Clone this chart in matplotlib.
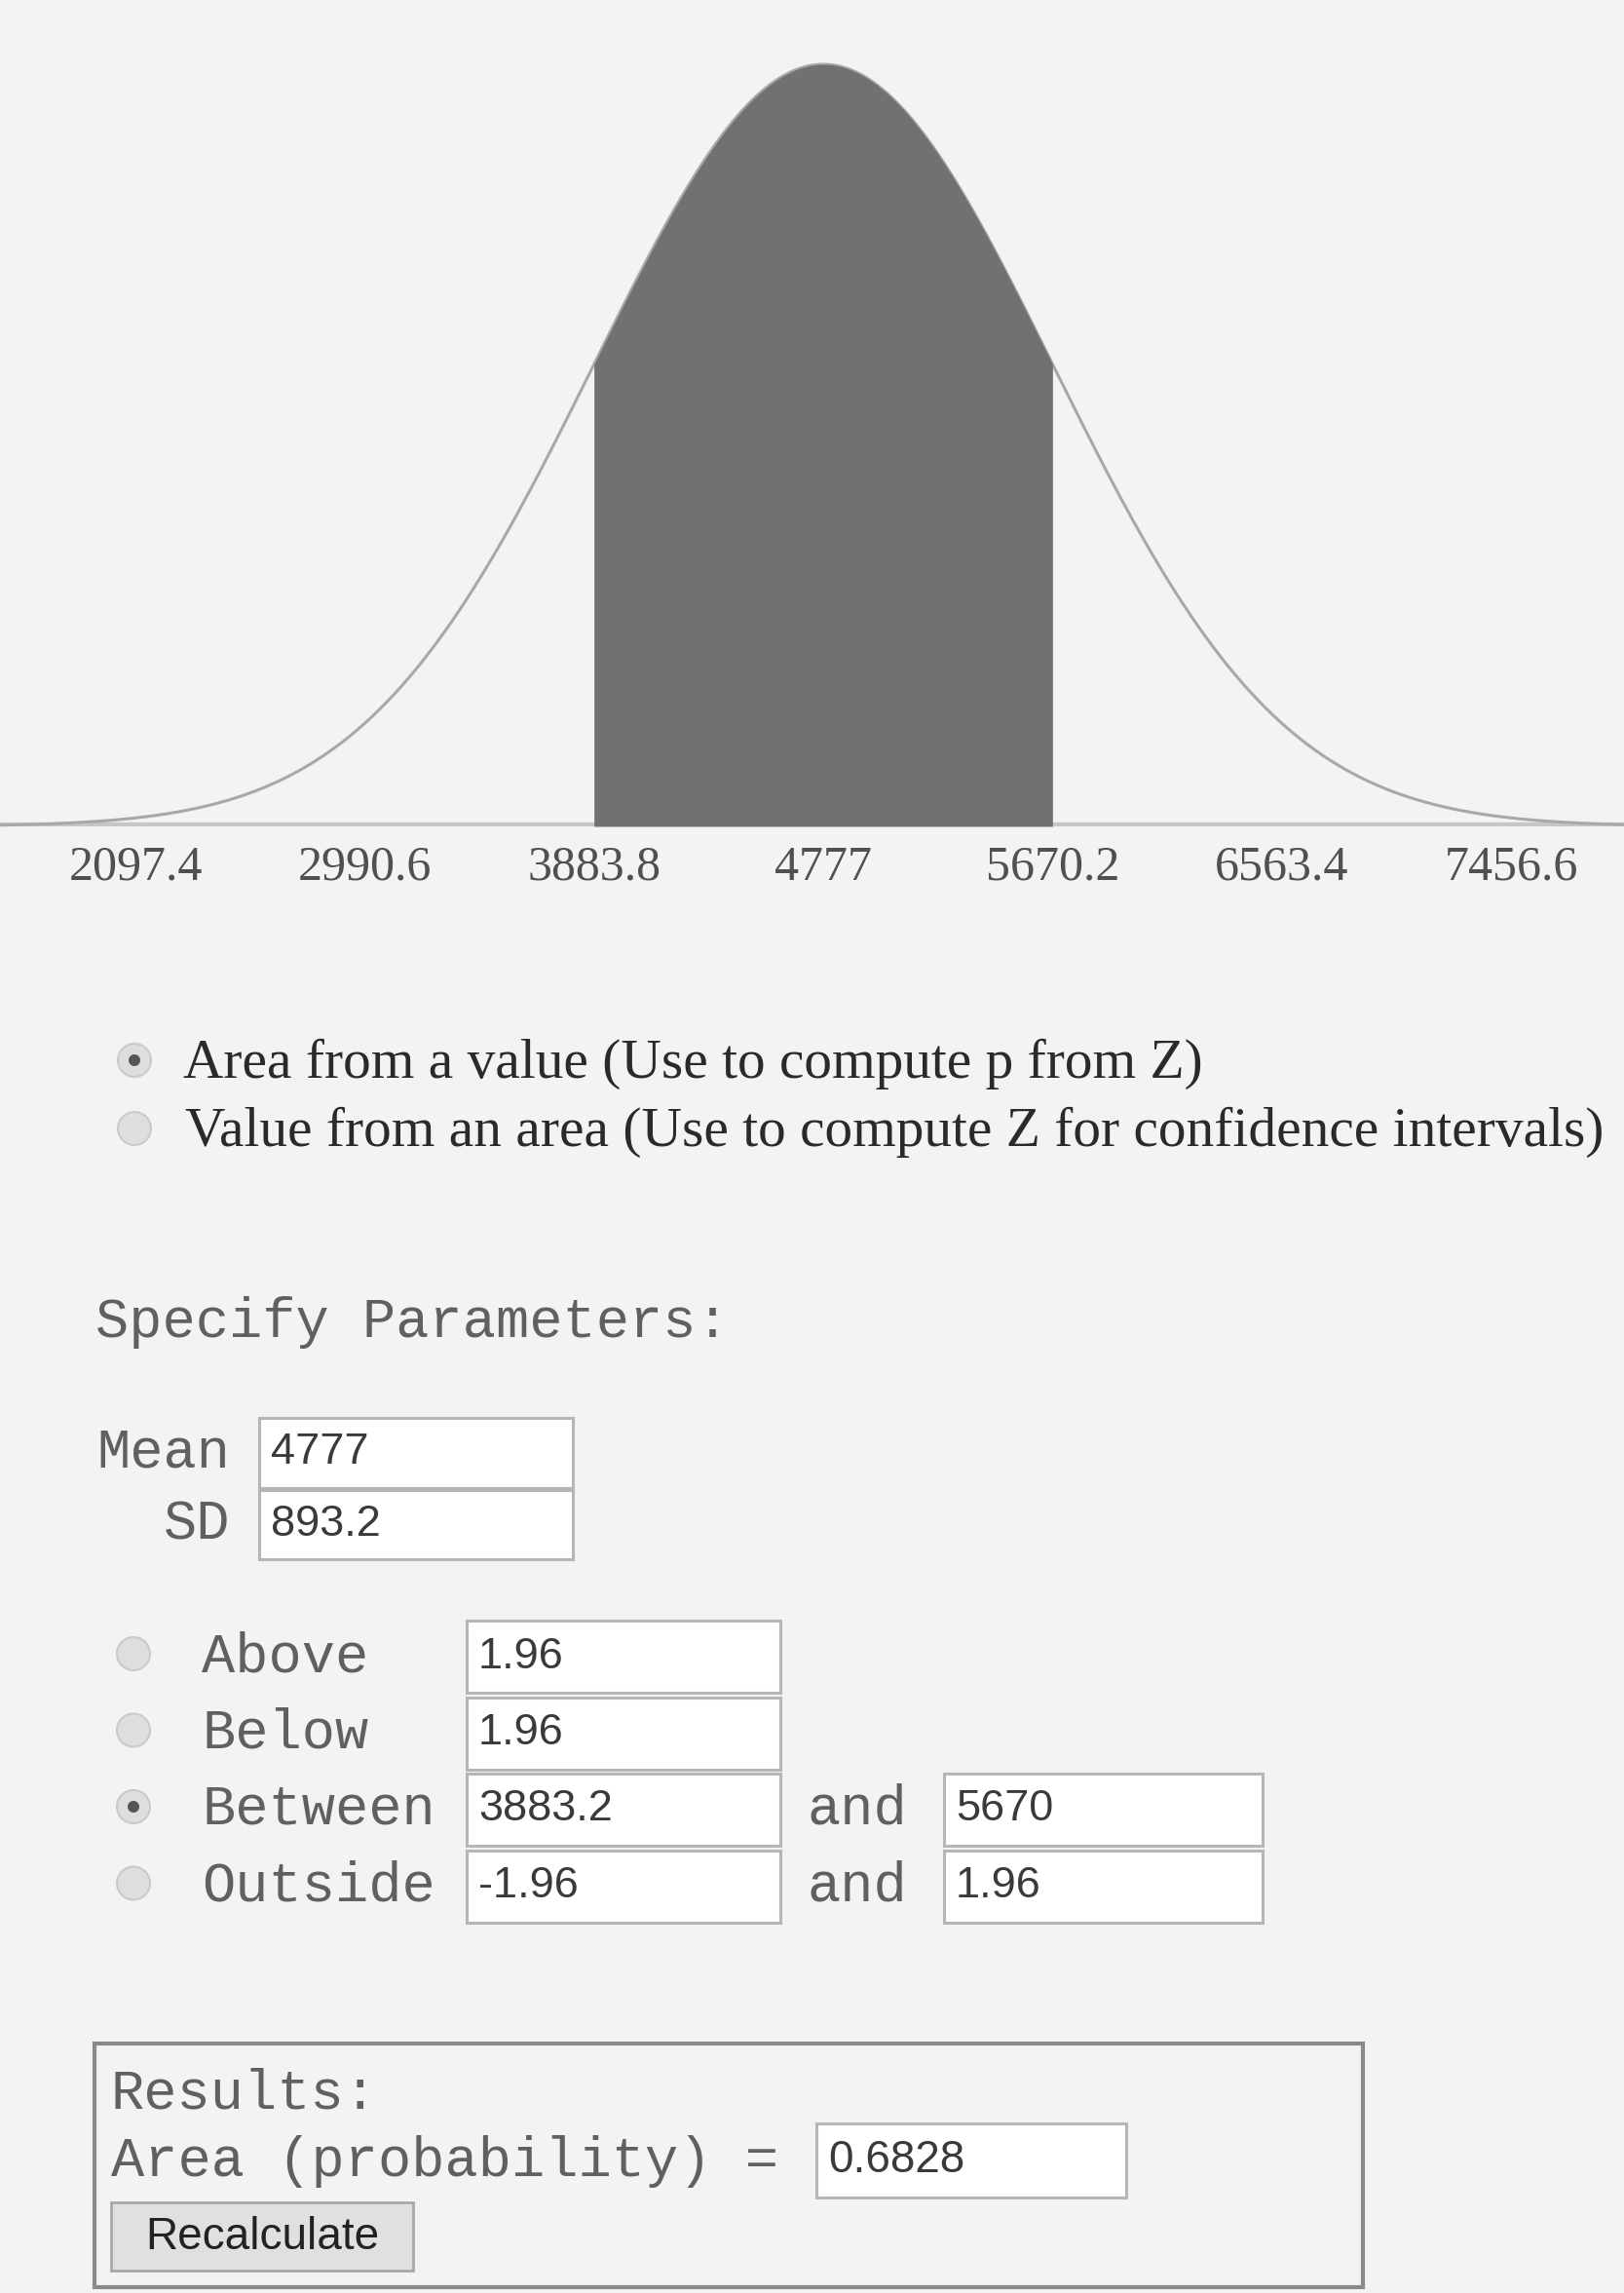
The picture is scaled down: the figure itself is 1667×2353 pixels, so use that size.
import numpy as np
import matplotlib.pyplot as plt
from matplotlib.patches import Rectangle, Circle

# values shown in the calculator
mean = 4777
sd = 893.2
lower = 3883.2
upper = 5670
tick_vals = [2097.4, 2990.6, 3883.8, 4777, 5670.2, 6563.4, 7456.6]
tick_labels = ['2097.4', '2990.6', '3883.8', '4777', '5670.2', '6563.4', '7456.6']
mode_options = ['Area from a value (Use to compute p from Z)',
                'Value from an area (Use to compute Z for confidence intervals)']
mode_selected = 0
range_options = ['Above', 'Below', 'Between', 'Outside']
range_first = ['1.96', '1.96', '3883.2', '-1.96']
range_second = [None, None, '5670', '1.96']
range_selected = 2
result_area = '0.6828'

W, H = 1667, 2353
BG = '#f3f3f3'
MONO = 'Liberation Mono'
SERIF = 'Liberation Serif'
SANS = 'Liberation Sans'
MONO_COL = '#606060'

fig = plt.figure(figsize=(W / 100, H / 100), dpi=100, facecolor=BG)

# pixel-space layer for the form widgets
ui = fig.add_axes([0, 0, 1, 1])
ui.set_xlim(0, W)
ui.set_ylim(H, 0)
ui.axis('off')
ui.patch.set_alpha(0)

# curve
base_y, peak_y = 848, 66
ax = fig.add_axes([0, 1 - base_y / H, 1, (base_y - peak_y) / H])
ax.patch.set_alpha(0)
x_lo, x_hi = 1569, 7897
xs = np.linspace(x_lo, x_hi, 900)
pdf = np.exp(-0.5 * ((xs - mean) / sd) ** 2)
ax.plot(xs, pdf, color='#a8a8a8', lw=2.2, clip_on=False, zorder=2)
xf = np.linspace(lower, upper, 400)
ax.fill_between(xf, np.exp(-0.5 * ((xf - mean) / sd) ** 2), 0,
                color='#717171', lw=0, zorder=3)
ax.axhline(0, color='#c6c6c6', lw=6, zorder=1)
ax.set_xlim(x_lo, x_hi)
ax.set_ylim(0, 1)
for s in ax.spines.values():
    s.set_visible(False)
ax.set_yticks([])
ax.set_xticks(tick_vals, tick_labels)
ax.tick_params(axis='x', length=0, pad=14, labelsize=36, labelcolor='#505050')
for lab in ax.get_xticklabels():
    lab.set_fontfamily(SERIF)

renderer = fig.canvas.get_renderer()


def fit_size(text, width):
    # scale the font so the text spans the given pixel width
    w = text.get_window_extent(renderer=renderer).width
    text.set_fontsize(text.get_fontsize() * width / w)
    return text.get_fontsize()


def radio(cx, cy, selected):
    ui.add_patch(Circle((cx, cy), 17, facecolor='#dedede', edgecolor='#cacaca', lw=1.5))
    if selected:
        ui.add_patch(Circle((cx, cy), 6, facecolor='#555555', edgecolor='none'))


def box(x, y, w, h, s, tx_size=32.5):
    ui.add_patch(Rectangle((x, y), w, h, facecolor='white', edgecolor='#b6b6b6', lw=2.2))
    ui.text(x + 12, y + h / 2, s, fontsize=tx_size, family=SANS, color='#3a3a3a',
            va='center', ha='left')


# mode radios
mode_y = [1092, 1162]
t2 = ui.text(190, mode_y[1], mode_options[1], fontsize=40, family=SERIF,
             color='#2a2a2a', va='center')
size = fit_size(t2, 1453)
for i, opt in enumerate(mode_options):
    radio(138, mode_y[i] - 4, i == mode_selected)
    if i == 0:
        ui.text(188, mode_y[i], opt, fontsize=size, family=SERIF, color='#2a2a2a', va='center')

# parameters
ui.text(98, 1357, 'Specify Parameters:', fontsize=41, family=MONO, color=MONO_COL, va='center')
ui.text(236, 1490, 'Mean', fontsize=41, family=MONO, color=MONO_COL, va='center', ha='right')
ui.text(236, 1565, 'SD', fontsize=41, family=MONO, color=MONO_COL, va='center', ha='right')
box(266, 1455, 322, 72, str(mean))
box(266, 1529, 322, 71, str(sd))

# range rows
row_top = 1663
row_h = 78.5
for i, name in enumerate(range_options):
    y0 = row_top + i * row_h
    cy = y0 + 37
    radio(137, cy - 3, i == range_selected)
    ui.text(207, cy, name, fontsize=41, family=MONO, color=MONO_COL, va='center')
    box(479, y0, 322, 74, range_first[i])
    if range_second[i] is not None:
        ui.text(829, cy, 'and', fontsize=41, family=MONO, color=MONO_COL, va='center')
        box(969, y0, 327, 74, range_second[i])

# results panel
ui.add_patch(Rectangle((97, 2097), 1302, 250, facecolor='none', edgecolor='#8a8a8a', lw=3))
ui.text(114, 2148, 'Results:', fontsize=41, family=MONO, color=MONO_COL, va='center')
ui.text(114, 2218, 'Area (probability) =', fontsize=41, family=MONO, color=MONO_COL, va='center')
box(838, 2179, 318, 76, result_area, tx_size=33)
ui.add_patch(Rectangle((114, 2260), 310, 70, facecolor='#e0e0e0', edgecolor='#a8a8a8', lw=2))
ui.text(269, 2296, 'Recalculate', fontsize=33, family=SANS, color='#222222',
        va='center', ha='center')

fig.savefig('out.png', dpi=100, facecolor=BG)
